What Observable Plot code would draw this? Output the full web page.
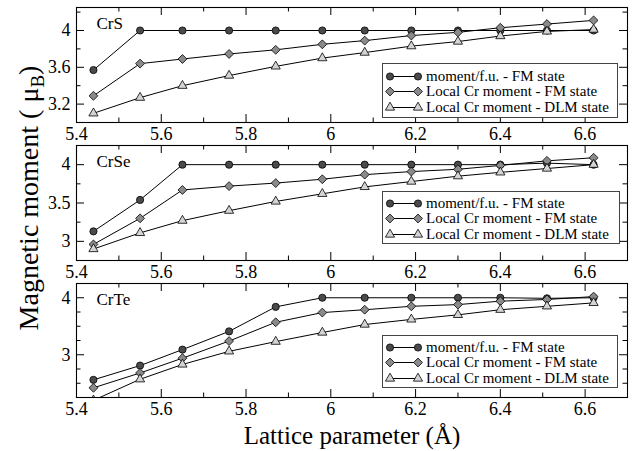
<!DOCTYPE html>
<html><head><meta charset="utf-8">
<script src="https://cdn.jsdelivr.net/npm/d3@7"></script>
<script src="https://cdn.jsdelivr.net/npm/@observablehq/plot@0.6"></script>
<style>
body{margin:0;background:#fff;font-family:"Liberation Serif","Times New Roman",serif;}
#wrap{position:relative;width:640px;height:451px;overflow:hidden;font-family:"Liberation Serif","Times New Roman",serif;}
.panel{position:absolute;left:0;}
.panel text{font-family:"Liberation Serif","Times New Roman",serif;}
.legend{position:absolute;border:1px solid #444;background:#fff;font-size:15px;color:#000;box-sizing:border-box;font-family:"Liberation Serif","Times New Roman",serif;}
.row{position:absolute;left:0;height:15px;line-height:15px;white-space:nowrap;}
.row svg{position:absolute;left:0;top:0;}
.row span{position:absolute;left:43px;top:0;}
.title{position:absolute;white-space:nowrap;color:#000;line-height:1;font-family:"Liberation Serif","Times New Roman",serif;}
</style></head>
<body><div id="wrap"></div>
<script>
// ---- data ----
const lattice = [5.44, 5.55, 5.65, 5.76, 5.87, 5.98, 6.08, 6.19, 6.30, 6.40, 6.51, 6.62];
const crsMomentFM  = [3.57, 4.00, 4.00, 4.00, 4.00, 4.00, 4.00, 4.00, 4.00, 4.00, 4.00, 4.00];
const crsLocalFM   = [3.29, 3.64, 3.69, 3.745, 3.79, 3.85, 3.89, 3.945, 3.98, 4.03, 4.07, 4.11];
const crsLocalDLM  = [3.10, 3.27, 3.40, 3.51, 3.61, 3.70, 3.76, 3.83, 3.88, 3.94, 3.99, 4.01];
const crseMomentFM = [3.13, 3.54, 4.00, 4.00, 4.00, 4.00, 4.00, 4.00, 4.00, 4.00, 4.02, 4.00];
const crseLocalFM  = [2.96, 3.30, 3.67, 3.72, 3.76, 3.81, 3.87, 3.91, 3.94, 3.99, 4.05, 4.09];
const crseLocalDLM = [2.90, 3.11, 3.27, 3.40, 3.52, 3.62, 3.71, 3.78, 3.85, 3.90, 3.95, 4.00];
const crteMomentFM = [2.56, 2.81, 3.09, 3.41, 3.84, 4.00, 4.00, 4.00, 4.00, 4.00, 3.99, 4.00];
const crteLocalFM  = [2.42, 2.68, 2.94, 3.24, 3.57, 3.74, 3.79, 3.85, 3.88, 3.94, 3.97, 4.02];
const crteLocalDLM = [2.20, 2.57, 2.83, 3.06, 3.23, 3.39, 3.53, 3.62, 3.70, 3.79, 3.85, 3.91];
const compounds = ["CrS", "CrSe", "CrTe"];
const seriesLabels = ["moment/f.u. - FM state", "Local Cr moment - FM state", "Local Cr moment - DLM state"];
const xMajorTicks = [5.4, 5.6, 5.8, 6.0, 6.2, 6.4, 6.6];
const xMinorTicks = [5.5, 5.7, 5.9, 6.1, 6.3, 6.5];
const crsYMajor = [3.2, 3.6, 4.0];
const crsYMinor = [3.0, 3.4, 3.8, 4.2];
const crseYMajor = [3.0, 3.5, 4.0];
const crseYMinor = [2.75, 3.25, 3.75, 4.25];
const crteYMajor = [3.0, 4.0];
const crteYMinor = [2.25, 2.5, 2.75, 3.25, 3.5, 3.75];
const xTitle = "Lattice parameter (Å)";

// ---- styles ----
const symbols = [
  {symbol: "circle", r: 3.6, fill: "#4a4a4a"},
  {symbol: "diamond2", r: 4.0, fill: "#8a8a8a"},
  {symbol: "triangle", r: 3.4, fill: "#d4d4d4"}
];
const W = 640, ML = 76, MR = 13, innerW = W - ML - MR;
const fmt = d => String(+d.toFixed(2));
const serif = '"Liberation Serif","Times New Roman",serif';

const panels = [
  {name: compounds[0], series: [crsMomentFM, crsLocalFM, crsLocalDLM], domain: [3.0, 4.25], yMajor: crsYMajor, yMinor: crsYMinor,
   top: 0, mt: 7, ih: 115, legend: {left: 382, top: 63, w: 236, h: 55}},
  {name: compounds[1], series: [crseMomentFM, crseLocalFM, crseLocalDLM], domain: [2.75, 4.25], yMajor: crseYMajor, yMinor: crseYMinor,
   top: 140, mt: 5, ih: 115, legend: {left: 382, top: 191, w: 238, h: 53}},
  {name: compounds[2], series: [crteMomentFM, crteLocalFM, crteLocalDLM], domain: [2.25, 4.25], yMajor: crteYMajor, yMinor: crteYMinor,
   top: 280, mt: 3, ih: 114, legend: {left: 382, top: 335, w: 236, h: 53}}
];

const wrap = document.getElementById("wrap");

function legendSymbol(k, cx, cy) {
  const s = symbols[k];
  const typ = {circle: d3.symbolCircle, diamond2: d3.symbolDiamond2, triangle: d3.symbolTriangle}[s.symbol];
  const p = d3.symbol(typ, Math.PI * s.r * s.r)();
  return `<path d="${p}" transform="translate(${cx},${cy})" fill="${s.fill}" stroke="black" stroke-width="0.8"/>`;
}

for (const P of panels) {
  const mb = 22;
  const height = P.mt + P.ih + mb;
  const rows = P.series.flatMap((vals, i) => lattice.map((x, j) => ({x, y: vals[j], s: i})));
  const marks = [
    Plot.ruleX(xMajorTicks, {x: d => d, insetTop: P.ih - 8, stroke: "black"}),
    Plot.ruleX(xMajorTicks, {x: d => d, insetBottom: P.ih - 8, stroke: "black"}),
    Plot.ruleX(xMinorTicks, {x: d => d, insetTop: P.ih - 4.5, stroke: "black"}),
    Plot.ruleX(xMinorTicks, {x: d => d, insetBottom: P.ih - 4.5, stroke: "black"}),
    Plot.ruleY(P.yMajor, {y: d => d, insetRight: innerW - 8, stroke: "black"}),
    Plot.ruleY(P.yMajor, {y: d => d, insetLeft: innerW - 8, stroke: "black"}),
    Plot.ruleY(P.yMinor, {y: d => d, insetRight: innerW - 4.5, stroke: "black"}),
    Plot.ruleY(P.yMinor, {y: d => d, insetLeft: innerW - 4.5, stroke: "black"}),
    Plot.axisX(xMajorTicks, {tickSize: 0, tickPadding: 5, tickFormat: fmt, label: null, fontSize: 18, fontFamily: serif}),
    Plot.axisY(P.yMajor, {tickSize: 0, tickPadding: 6, tickFormat: fmt, label: null, fontSize: 18, fontFamily: serif}),
    Plot.text([P.name], {text: d => d, frameAnchor: "top-left", dx: 20, dy: 9, lineAnchor: "top", textAnchor: "start", fontSize: 17, fontFamily: serif})
  ];
  for (let i = 0; i < 3; i++) {
    const d = rows.filter(r => r.s === i);
    marks.push(Plot.line(d, {x: "x", y: "y", stroke: "black", strokeWidth: 1, clip: true}));
    marks.push(Plot.dot(d, {x: "x", y: "y", symbol: symbols[i].symbol, r: symbols[i].r, fill: symbols[i].fill, stroke: "black", strokeWidth: 0.8, clip: true}));
  }
  marks.push(Plot.frame({stroke: "black", strokeWidth: 1.1}));
  const chart = Plot.plot({
    width: W, height, marginLeft: ML, marginRight: MR, marginTop: P.mt, marginBottom: mb,
    x: {domain: [5.4, 6.7]},
    y: {domain: P.domain},
    style: `font-family: ${serif}; font-size: 18px; color: black; background: none; overflow: visible;`,
    marks
  });
  chart.classList.add("panel");
  chart.style.top = P.top + "px";
  wrap.appendChild(chart);

  const L = P.legend;
  const box = document.createElement("div");
  box.className = "legend";
  Object.assign(box.style, {left: L.left + "px", top: L.top + "px", width: L.w + "px", height: L.h + "px"});
  const rowTops = [4.5, 20, 35.5];
  seriesLabels.forEach((lab, k) => {
    const r = document.createElement("div");
    r.className = "row";
    r.style.top = (rowTops[k] + (L.h - 55) / 2) + "px";
    r.style.width = (L.w - 4) + "px";
    r.innerHTML = `<svg width="42" height="15"><line x1="7" x2="35" y1="7.5" y2="7.5" stroke="black" stroke-width="1"/>${legendSymbol(k, 7, 7.5)}${legendSymbol(k, 35, 7.5)}</svg><span>${lab}</span>`;
    box.appendChild(r);
  });
  wrap.appendChild(box);
}

const xt = document.createElement("div");
xt.className = "title";
xt.textContent = xTitle;
Object.assign(xt.style, {fontSize: "25px", left: "352px", top: "423px", transform: "translateX(-50%)"});
wrap.appendChild(xt);

const yt = document.createElement("div");
yt.className = "title";
yt.innerHTML = 'Magnetic moment ( &mu;<sub style="font-size:19px;vertical-align:-6px;line-height:0">B</sub>)';
Object.assign(yt.style, {fontSize: "28px", left: "29px", top: "198px", transform: "translate(-50%,-50%) rotate(-90deg)"});
wrap.appendChild(yt);
</script>
</body></html>
